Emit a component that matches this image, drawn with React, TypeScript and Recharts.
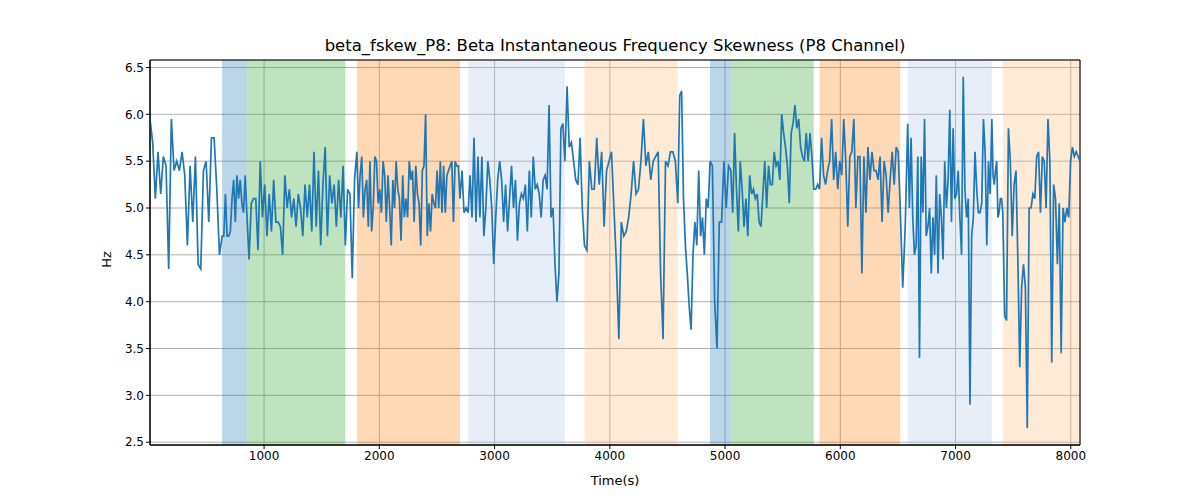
import React from "react";
import { ComposedChart, Line, XAxis, YAxis, CartesianGrid, ReferenceArea } from "recharts";

const segBounds = [10, 636, 850, 1705, 1805, 2700, 2770, 3610, 3780, 4590, 4870, 5050, 5770, 5820, 6520, 6585, 7315, 7410, 8080];
const segValues: number[][] = [
  [5.95,5.7,5.1,5.6,5.15,5.55,5.45,4.35,5.95,5.4,5.5,5.4,5.6,5.35,4.6,5.45,4.85,5.55,4.4,4.35,5.4,5.5,4.85,5.75,5.75,5.2,4.5],
  [4.7,4.7,5.15,4.7,4.7,4.75,5.1,5.3,4.85,5.35,5.1,5.3,5.05,4.95,5.35],
  [4.95,4.45,5.05,5.1,5.1,4.55,5.5,4.9,5.25,4.7,5.15,4.75,5.3,4.85,4.85,4.8,4.5,5.35,5.0,5.2,4.9,5.1,4.8,5.15,5.0,4.7,5.25,4.9,5.25,4.75,5.6,4.8,5.4,4.6,5.25,5.65,4.7,5.35,5.05,5.25,4.8,5.3,4.9,5.45],
  [4.6,5.2,5.15,4.25,5.3],
  [5.6,5.0,5.35,5.55,4.9,5.2,5.3,4.8,5.5,4.75,5.0,5.55,5.5,5.05,5.2,4.95,5.5,5.35,4.85,5.35,5.0,4.6,5.3,5.0,5.5,5.2,5.1,4.65,5.35,4.9,5.1,4.9,5.5,5.3,5.4,4.85,5.45,5.15,5.05,4.6,5.4,5.45,6.0,4.7,5.05,4.75,5.15,5.05,5.0,5.4,5.0,5.5,4.95,5.45,4.95,5.35,5.4,5.45,5.5,4.85,5.5,5.45,5.45],
  [5.1,5.4,4.95,5.0],
  [4.95,5.35,4.9,5.75,4.85,5.55,4.9,5.55,4.7,5.0,5.5,5.3,5.0,4.4,4.9,5.3,5.5,5.3,4.85,5.25,4.75,5.1,5.45,5.0,5.3,4.65,5.05,5.15,5.1,5.25,4.75,5.4,4.9,5.55,5.2,5.25,5.15,4.9,5.3,5.35,5.2,6.1,4.9,5.0,4.4,4.0,4.3,5.85,5.9],
  [5.5,6.3,5.65,5.7,5.5,5.3,5.25,5.75,5.0],
  [4.6,4.55,5.5,5.2,5.2,5.75,5.25,5.6,4.8,5.4,5.5,5.6,5.0,4.4,3.6,4.85,4.7,4.75,4.9,5.15,5.5,5.15,5.2,5.5,5.95,5.45,5.6,5.3,5.5,5.55,5.6,4.3,3.6,5.5,5.45,5.6,5.6,5.5],
  [5.05,6.2,6.25,5.1,4.6,4.3,3.95,3.7,4.5,4.85,4.6,5.4,4.7,4.9,4.5,5.1,5.0],
  [5.5,5.45,4.0,3.5,4.85,4.85,5.5,5.0,5.45],
  [5.4,4.95,5.8,5.2,4.75,5.5,5.2,4.8,5.1,4.7,5.35,5.15,5.2,5.1,5.15,4.85,4.8,5.15,5.5,5.0,5.45,5.25,5.25,5.6,5.45,5.5,5.3,6.0,5.8,5.65,5.45,5.05,5.8,5.9,6.1,5.85,5.95,5.65,5.55,5.5,5.8,5.5,5.8,5.55],
  [5.2,5.2,5.25],
  [5.2,5.75,5.35,5.25,5.4,5.5,5.95,5.3,5.6,5.2,5.5,5.35,5.95,5.5,4.8,5.55,5.6,5.95,5.0,5.55,5.55,4.3,5.55,4.95,5.65,5.3,5.6,5.4,5.4,5.3,5.55,4.85,5.5,5.35,4.95,5.3,5.6,5.25,5.65,5.6],
  [5.0,4.15,4.8],
  [5.9,5.0,5.75,4.9,4.5,4.6,5.55,3.4,5.55,4.95,5.95,4.7,4.8,5.0,4.3,4.9,4.5,5.35,4.3,5.15,4.9,4.45,5.5,5.0,5.3,6.05,4.85,5.85,5.1,5.15,5.4,4.9,4.5,6.4,5.2,4.9,5.1,2.9,4.7,4.9,5.6,5.2,4.95,4.95,5.05,5.95,5.6,4.6,5.5,5.15],
  [5.95,5.35,5.25,5.4,5.5,4.9,4.95,5.1,5.1],
  [4.95,3.85,3.8,5.85,5.5,4.7,5.25,5.4,4.45,3.3,4.15,4.4,4.15,2.65,5.0,5.0,5.15,5.1,5.55,5.6,4.95,5.55,5.5,5.0,5.95,5.5,3.35,5.25,5.1,4.4,5.05,3.45,5.0,4.85,5.0,4.9,5.5,5.65,5.55,5.6,5.55,5.5],
];

const bands = [
  { x1: 636, x2: 850, fill: "#1f77b4", op: 0.3 },
  { x1: 850, x2: 1705, fill: "#2ca02c", op: 0.3 },
  { x1: 1805, x2: 2700, fill: "#ff7f0e", op: 0.3 },
  { x1: 2770, x2: 3610, fill: "#aec7e8", op: 0.3 },
  { x1: 3780, x2: 4590, fill: "#ffbb78", op: 0.3 },
  { x1: 4870, x2: 5050, fill: "#1f77b4", op: 0.3 },
  { x1: 5050, x2: 5770, fill: "#2ca02c", op: 0.3 },
  { x1: 5820, x2: 6520, fill: "#ff7f0e", op: 0.3 },
  { x1: 6585, x2: 7315, fill: "#aec7e8", op: 0.3 },
  { x1: 7410, x2: 8080, fill: "#ffbb78", op: 0.3 },
];

const xTicks = [1000, 2000, 3000, 4000, 5000, 6000, 7000, 8000];
const yTicks = [2.5, 3.0, 3.5, 4.0, 4.5, 5.0, 5.5, 6.0, 6.5];

const data: { t: number; v: number }[] = [];
segValues.forEach((vals, i) => {
  const a = segBounds[i], b = segBounds[i + 1];
  const last = i === segValues.length - 1;
  vals.forEach((v, j) => {
    const n = last ? vals.length - 1 : vals.length;
    data.push({ t: a + ((b - a) * j) / n, v });
  });
});

const font = "DejaVu Sans, sans-serif";

export default function App() {
  return (
    <div style={{ position: "absolute", left: 0, top: 0, width: 1200, height: 500, background: "#fff", fontFamily: font }}>
      <div style={{ position: "absolute", top: 36, left: 150, width: 930, textAlign: "center", fontSize: 16.5 }}>
        beta_fskew_P8: Beta Instantaneous Frequency Skewness (P8 Channel)
      </div>
      <div style={{ position: "absolute", top: 473, left: 150, width: 930, textAlign: "center", fontSize: 13 }}>Time(s)</div>
      <div style={{ position: "absolute", left: 98, top: 252, fontSize: 13, transform: "rotate(-90deg)", transformOrigin: "center" }}>Hz</div>
      <ComposedChart width={1200} height={500} data={data} margin={{ top: 60, right: 120, bottom: 25, left: 0 }}>
        {bands.map((b, i) => (
          <ReferenceArea key={i} x1={b.x1} x2={b.x2} fill={b.fill} fillOpacity={b.op} stroke="none" ifOverflow="hidden" />
        ))}
        <CartesianGrid stroke="#b0b0b0" strokeWidth={1} />
        <XAxis dataKey="t" type="number" domain={[10, 8080]} ticks={xTicks} height={30} allowDataOverflow
          tick={{ fill: "#000", fontSize: 12, fontFamily: font }} tickLine={{ stroke: "#000" }} axisLine={{ stroke: "#000" }} tickSize={4} />
        <YAxis type="number" domain={[2.47, 6.58]} ticks={yTicks} width={150} allowDataOverflow
          tickFormatter={(v: number) => v.toFixed(1)}
          tick={{ fill: "#000", fontSize: 12, fontFamily: font }} tickLine={{ stroke: "#000" }} axisLine={{ stroke: "#000" }} tickSize={4} />
        <Line dataKey="v" type="linear" stroke="#1f77b4" strokeWidth={1.7} dot={false} isAnimationActive={false} />
        <ReferenceArea x1={10} x2={8080} y1={2.47} y2={6.58} fill="none" stroke="#000" strokeWidth={1} />
      </ComposedChart>
    </div>
  );
}
